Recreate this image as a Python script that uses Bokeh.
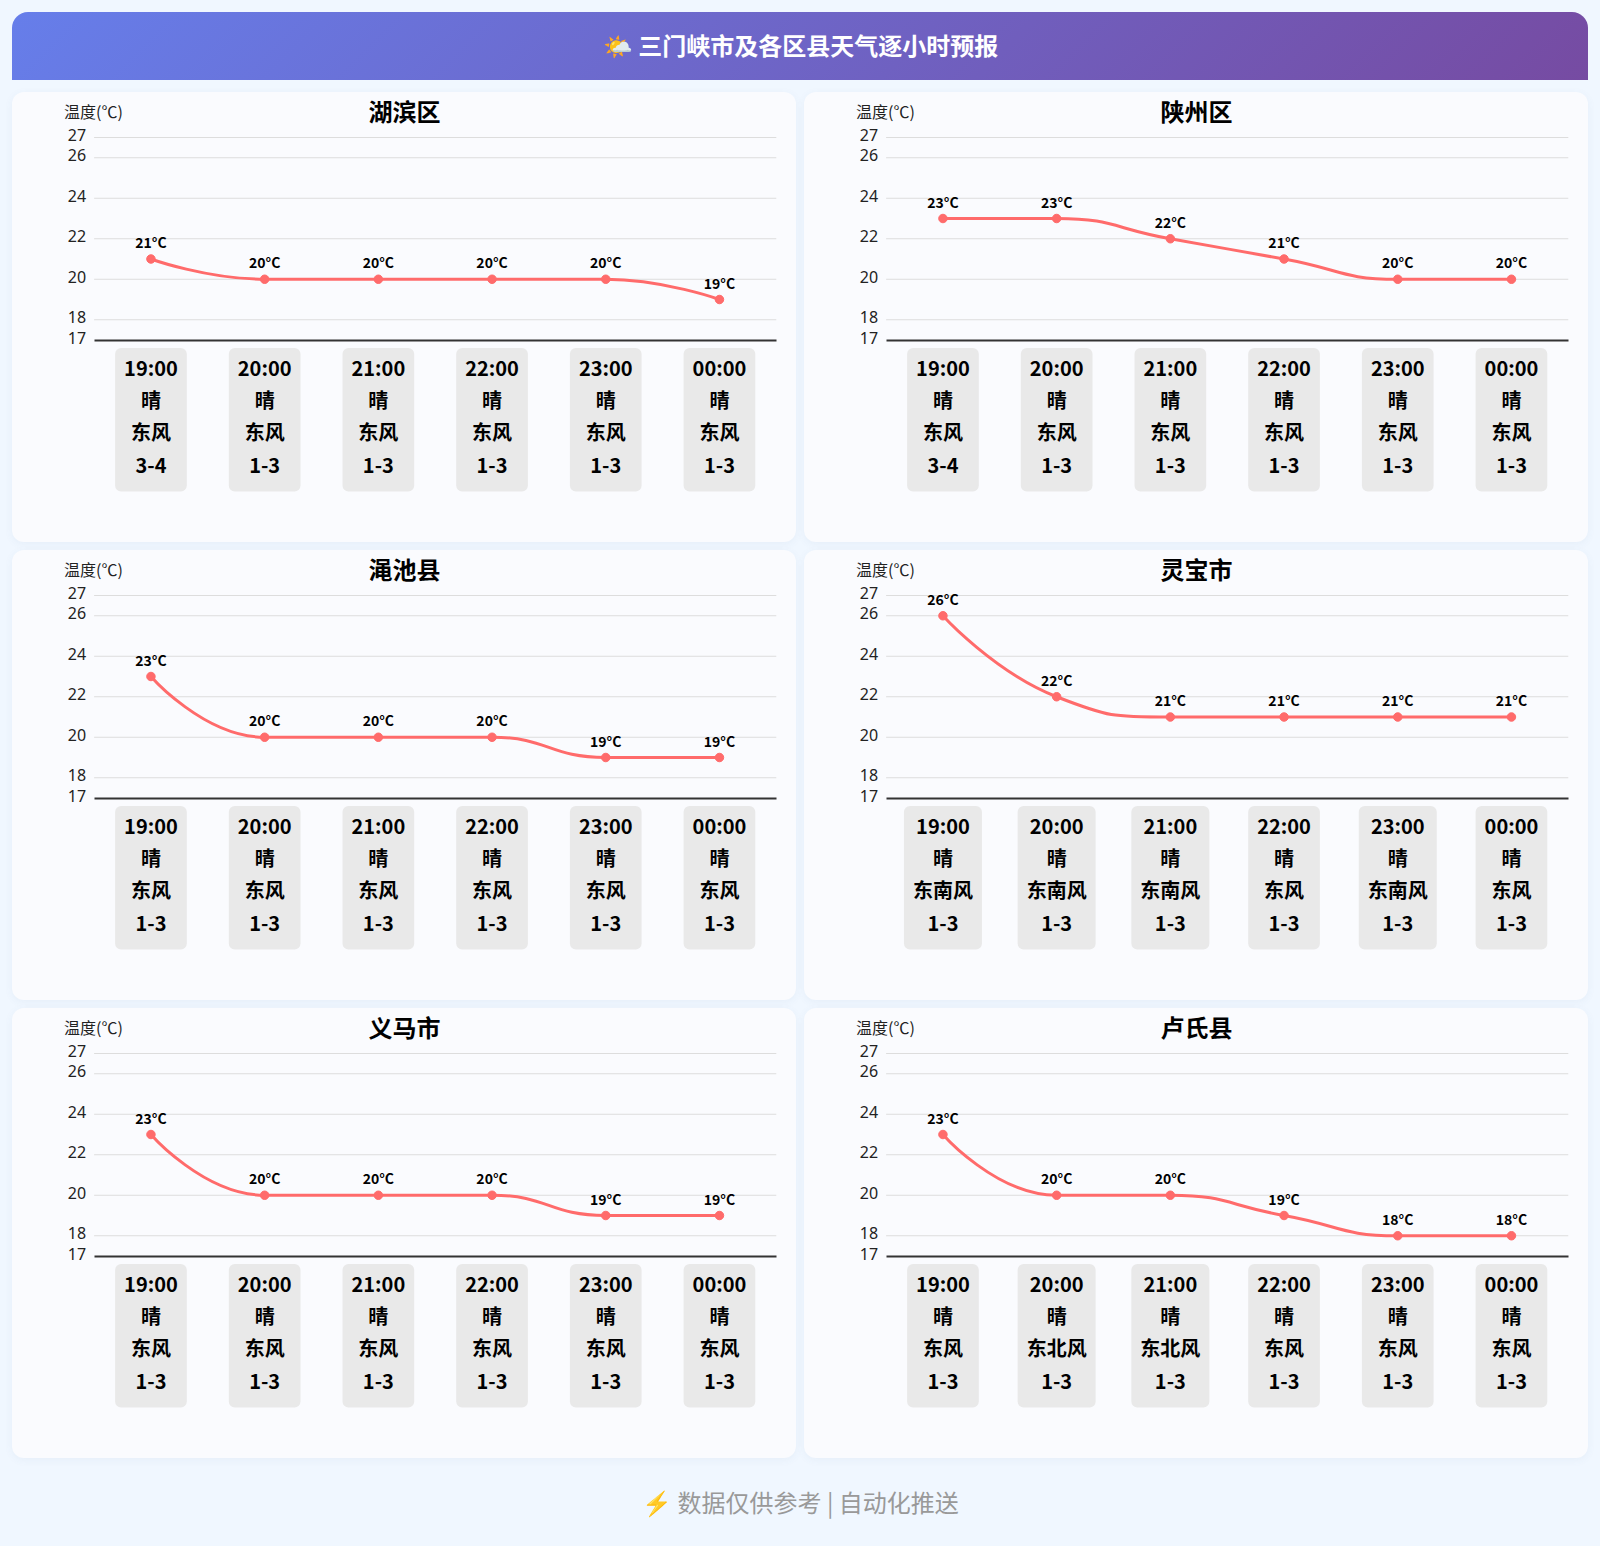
import math
from bokeh.core.properties import value
from bokeh.embed import file_html
from bokeh.layouts import column, row
from bokeh.models import ColumnDataSource, FixedTicker, LinearAxis, Range1d
from bokeh.plotting import figure
from bokeh.resources import INLINE

PAGE_TITLE = "🌤️ 三门峡市及各区县天气逐小时预报"
FOOTER = "⚡ 数据仅供参考 | 自动化推送"
Y_NAME = "温度(℃)"
HOURS = ["19:00", "20:00", "21:00", "22:00", "23:00", "00:00"]
WEATHER = ["晴", "晴", "晴", "晴", "晴", "晴"]
Y_TICKS = [17, 18, 20, 22, 24, 26, 27]

DISTRICTS = ["湖滨区", "陕州区", "渑池县", "灵宝市", "义马市", "卢氏县"]

TEMP_HUBIN = [21, 20, 20, 20, 20, 19]
TEMP_SHANZHOU = [23, 23, 22, 21, 20, 20]
TEMP_MIANCHI = [23, 20, 20, 20, 19, 19]
TEMP_LINGBAO = [26, 22, 21, 21, 21, 21]
TEMP_YIMA = [23, 20, 20, 20, 19, 19]
TEMP_LUSHI = [23, 20, 20, 19, 18, 18]

DIR_HUBIN = ["东风", "东风", "东风", "东风", "东风", "东风"]
DIR_SHANZHOU = ["东风", "东风", "东风", "东风", "东风", "东风"]
DIR_MIANCHI = ["东风", "东风", "东风", "东风", "东风", "东风"]
DIR_LINGBAO = ["东南风", "东南风", "东南风", "东风", "东南风", "东风"]
DIR_YIMA = ["东风", "东风", "东风", "东风", "东风", "东风"]
DIR_LUSHI = ["东风", "东北风", "东北风", "东风", "东风", "东风"]

LEVEL_HUBIN = ["3-4", "1-3", "1-3", "1-3", "1-3", "1-3"]
LEVEL_SHANZHOU = ["3-4", "1-3", "1-3", "1-3", "1-3", "1-3"]
LEVEL_MIANCHI = ["1-3", "1-3", "1-3", "1-3", "1-3", "1-3"]
LEVEL_LINGBAO = ["1-3", "1-3", "1-3", "1-3", "1-3", "1-3"]
LEVEL_YIMA = ["1-3", "1-3", "1-3", "1-3", "1-3", "1-3"]
LEVEL_LUSHI = ["1-3", "1-3", "1-3", "1-3", "1-3", "1-3"]

TEMPS = [TEMP_HUBIN, TEMP_SHANZHOU, TEMP_MIANCHI, TEMP_LINGBAO, TEMP_YIMA, TEMP_LUSHI]
DIRS = [DIR_HUBIN, DIR_SHANZHOU, DIR_MIANCHI, DIR_LINGBAO, DIR_YIMA, DIR_LUSHI]
LEVELS = [LEVEL_HUBIN, LEVEL_SHANZHOU, LEVEL_MIANCHI, LEVEL_LINGBAO, LEVEL_YIMA, LEVEL_LUSHI]

CJK = "Noto Sans CJK SC"
LATIN = "Noto Sans"
CARD_W, CARD_H = 784, 450
LEFT, RIGHT, TOP = 81.6, 20.2, 45
PX_Y = 20.25
PX_X = (CARD_W - LEFT - RIGHT) / 6
TICK_SHIFT = 2.5


def bezier_segments(xs, ys, smooth=0.5):
    """ECharts-like smoothing, computed in pixel space from the values."""
    px = [x * PX_X for x in xs]
    py = [y * PX_Y for y in ys]
    n = len(px)
    segs = []
    prevx, prevy = px[0], py[0]
    cp0x, cp0y = px[0], py[0]
    for i in range(1, n):
        x, y = px[i], py[i]
        if i == n - 1:
            segs.append((px[i - 1], py[i - 1], x, y, cp0x, cp0y, x, y))
            break
        nx, ny = px[i + 1], py[i + 1]
        vx, vy = nx - prevx, ny - prevy
        l0 = math.hypot(x - prevx, y - prevy)
        l1 = math.hypot(nx - x, ny - y)
        r = l1 / (l0 + l1)
        c1x = x + vx * smooth * r
        c1y = y + vy * smooth * r
        c1x = max(min(c1x, max(nx, x)), min(nx, x))
        c1y = max(min(c1y, max(ny, y)), min(ny, y))
        vx, vy = c1x - x, c1y - y
        c0x = x - vx * l0 / l1
        c0y = y - vy * l0 / l1
        c0x = max(min(c0x, max(prevx, x)), min(prevx, x))
        c0y = max(min(c0y, max(prevy, y)), min(prevy, y))
        vx, vy = x - c0x, y - c0y
        c1x = x + vx * l1 / l0
        c1y = y + vy * l1 / l0
        segs.append((px[i - 1], py[i - 1], x, y, cp0x, cp0y, c0x, c0y))
        cp0x, cp0y = c1x, c1y
        prevx, prevy = x, y
    return segs


def panel(name, temps, dirs, levels, margin):
    ymax, ymin = max(Y_TICKS), min(Y_TICKS)
    x0, x1 = -0.5, 5.5
    top_val = ymax + TOP / PX_Y
    bottom = ymax - (CARD_H - TOP) / PX_Y
    p = figure(
        width=CARD_W, height=CARD_H, output_backend="svg", toolbar_location=None,
        x_range=Range1d(x0 - LEFT / PX_X, x1 + RIGHT / PX_X), y_range=Range1d(bottom, top_val),
        x_axis_type=None, y_axis_type=None, min_border=0,
        background_fill_color=None, border_fill_color=None, outline_line_color=None,
        margin=margin,
        styles={"background": "#fafbfe", "border-radius": "12px",
                "box-shadow": "0 2px 8px rgba(60,100,160,0.06)"},
    )
    d = TICK_SHIFT / PX_Y
    p.extra_y_ranges = {"ticks": Range1d(bottom - d, top_val - d)}

    yaxis = LinearAxis(ticker=FixedTicker(ticks=Y_TICKS), fixed_location=x0, y_range_name="ticks")
    yaxis.axis_line_color = None
    yaxis.major_tick_line_color = None
    yaxis.minor_tick_line_color = None
    yaxis.major_tick_in = 0
    yaxis.major_tick_out = 0
    yaxis.major_label_standoff = 8
    yaxis.major_label_text_font = LATIN
    yaxis.major_label_text_font_size = "16px"
    yaxis.major_label_text_color = "#222222"
    p.add_layout(yaxis, "left")

    xaxis = LinearAxis(ticker=FixedTicker(ticks=[]), fixed_location=ymin, bounds=(x0, x1))
    xaxis.axis_line_color = "#333333"
    xaxis.axis_line_width = 2
    xaxis.major_tick_line_color = None
    xaxis.minor_tick_line_color = None
    xaxis.major_label_text_font_size = "0px"
    p.add_layout(xaxis, "below")

    grid_vals = Y_TICKS[1:]
    p.segment(x0=[x0] * len(grid_vals), x1=[x1] * len(grid_vals), y0=grid_vals, y1=grid_vals,
              line_color="#dddddd", line_width=1, level="underlay")

    xs = list(range(len(temps)))
    segs = bezier_segments(xs, temps)
    p.bezier(
        x0=[s[0] / PX_X for s in segs], y0=[s[1] / PX_Y for s in segs],
        x1=[s[2] / PX_X for s in segs], y1=[s[3] / PX_Y for s in segs],
        cx0=[s[4] / PX_X for s in segs], cy0=[s[5] / PX_Y for s in segs],
        cx1=[s[6] / PX_X for s in segs], cy1=[s[7] / PX_Y for s in segs],
        line_color="#ff6b6b", line_width=3,
    )
    p.scatter(xs, temps, size=8.5, color="#ff6b6b")

    src = ColumnDataSource(dict(x=xs, y=temps, t=[f"{v}°C" for v in temps]))
    p.text("x", "y", text="t", source=src, y_offset=-17, text_align="center",
           text_baseline="middle", text_font=value(CJK), text_font_style="bold",
           text_font_size="14px", text_color="#000000")

    labels = ["\n".join(parts) for parts in zip(HOURS, WEATHER, dirs, levels)]
    src2 = ColumnDataSource(dict(x=xs, y=[ymin] * len(xs), t=labels))
    p.text("x", "y", text="t", source=src2, y_offset=8, text_align="center",
           text_baseline="top", text_font=value(CJK), text_font_style="bold",
           text_font_size="20px", text_color="#000000", text_line_height=1.11,
           background_fill_color="#e9e9e9", border_radius=6, padding=(9, 9, 5, 13))

    def data_x(px):
        return (px - LEFT) / PX_X - 0.5

    def data_y(px):
        return ymax + (TOP - px) / PX_Y

    p.text(x=[data_x(CARD_W / 2)], y=[data_y(18)], text=[name], text_align="center",
           text_baseline="middle", text_font=value(CJK), text_font_style="bold",
           text_font_size="24px", text_color="#000000")
    p.text(x=[data_x(81)], y=[data_y(18)], text=[Y_NAME], text_align="center",
           text_baseline="middle", text_font=value(CJK), text_font_size="16px",
           text_color="#222222")
    return p


def banner(text, w, h, margin, styles, color, size, bold, text_y):
    f = figure(width=w, height=h, output_backend="svg", toolbar_location=None,
               x_range=Range1d(0, w), y_range=Range1d(0, h),
               x_axis_type=None, y_axis_type=None, min_border=0,
               background_fill_color=None, border_fill_color=None, outline_line_color=None,
               margin=margin, styles=styles)
    f.text(x=[w / 2], y=[text_y], text=[text], text_align="center", text_baseline="middle",
           text_font=value(CJK), text_font_style="bold" if bold else "normal",
           text_font_size=size, text_color=color)
    return f


header = banner(PAGE_TITLE, 1576, 68, (12, 12, 12, 12),
                {"background": "linear-gradient(135deg,#667eea 0%,#764ba2 100%)",
                 "border-radius": "16px 16px 0 0"}, "#ffffff", "24px", True, 36)
footer = banner(FOOTER, 1576, 76, (0, 12, 0, 12), {}, "#999999", "24px", False, 41)

ML, MR = (0, 4, 8, 12), (0, 12, 8, 4)
panels = [panel(n, t, d, l, ML if i % 2 == 0 else MR)
          for i, (n, t, d, l) in enumerate(zip(DISTRICTS, TEMPS, DIRS, LEVELS))]
layout = column(header, row(panels[0], panels[1]), row(panels[2], panels[3]),
                row(panels[4], panels[5]), footer, spacing=0)

html = file_html(layout, INLINE, title="三门峡市及各区县天气逐小时预报")
html = html.replace("<head>", "<head><style>html,body{background:#f0f7ff}</style>", 1)
open("out.html", "w").write(html)
